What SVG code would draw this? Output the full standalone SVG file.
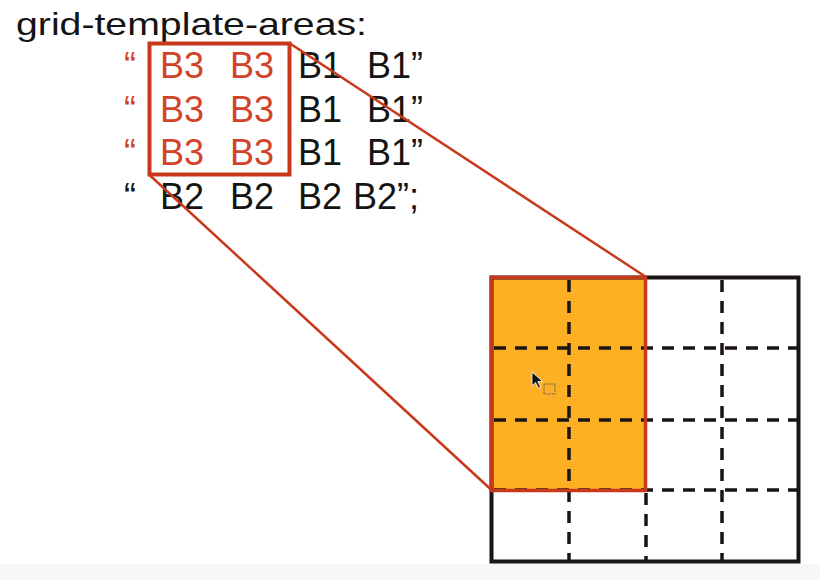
<svg xmlns="http://www.w3.org/2000/svg" width="820" height="580" viewBox="0 0 820 580">
<style>
.t{font-family:"Liberation Sans",Arial,sans-serif;font-size:36px;fill:#141414}
.r{fill:#d2432a}
.title{font-family:"Liberation Sans",Arial,sans-serif;font-size:32px;fill:#141414}
.dash{stroke:#1a1414;stroke-width:3.5;stroke-dasharray:12 9;fill:none}
.link{stroke:#c8391b;stroke-width:2.5;fill:none}
</style>
<rect width="820" height="580" fill="#ffffff"/>
<rect x="0" y="564" width="820" height="16" fill="#f7f7f7"/>
<g id="code">
<text class="title" x="16" y="35" textLength="351" lengthAdjust="spacingAndGlyphs">grid-template-areas:</text>
<g id="row1">
<text class="t r" x="124" y="78">“</text>
<text class="t r" x="160" y="78">B3</text>
<text class="t r" x="230" y="78">B3</text>
<text class="t" x="298" y="78">B1</text>
<text class="t" x="367" y="78">B1”</text>
</g>
<g id="row2">
<text class="t r" x="124" y="121.5">“</text>
<text class="t r" x="160" y="121.5">B3</text>
<text class="t r" x="230" y="121.5">B3</text>
<text class="t" x="298" y="121.5">B1</text>
<text class="t" x="367" y="121.5">B1”</text>
</g>
<g id="row3">
<text class="t r" x="124" y="165">“</text>
<text class="t r" x="160" y="165">B3</text>
<text class="t r" x="230" y="165">B3</text>
<text class="t" x="298" y="165">B1</text>
<text class="t" x="367" y="165">B1”</text>
</g>
<g id="row4">
<text class="t" x="124" y="208.5">“</text>
<text class="t" x="160" y="208.5">B2</text>
<text class="t" x="230" y="208.5">B2</text>
<text class="t" x="298" y="208.5">B2</text>
<text class="t" x="353" y="208.5">B2”;</text>
</g>
</g>
<g id="selection">
<rect x="149.5" y="43.5" width="140" height="131" fill="none" stroke="#c8391b" stroke-width="4"/>
</g>
<g id="grid">
<rect x="491" y="277" width="155" height="214" fill="#fdb023"/>
<path class="dash" d="M569 280V560M722 280V560M646 493V560M494 348H797M494 420H797M494 490H797"/>
<rect x="491.5" y="277.5" width="307" height="284" fill="none" stroke="#1a1414" stroke-width="4"/>
<rect x="491.5" y="277.5" width="154" height="213" fill="none" stroke="#c8391b" stroke-width="3.5"/>
</g>
<g id="connectors">
<line class="link" x1="290" y1="43.5" x2="646" y2="277"/>
<line class="link" x1="149.5" y1="175" x2="491.5" y2="490"/>
</g>
<g id="cursor">
<path d="M532 372 L532 386 L535.5 382.5 L538.5 388 L540.5 387 L537.8 381.6 L542.5 381.3 Z" fill="#111" stroke="#fff" stroke-width="0.8"/>
<rect x="544" y="384" width="11" height="10" fill="none" stroke="#555" stroke-width="1" stroke-dasharray="1.5 1"/>
</g>
</svg>
